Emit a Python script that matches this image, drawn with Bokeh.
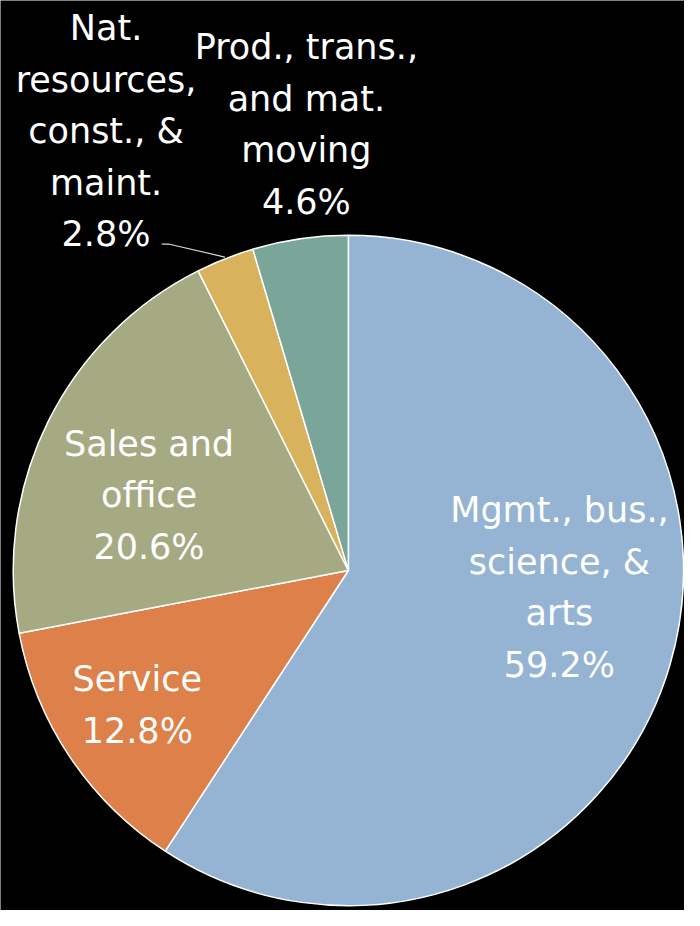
import math
from bokeh.plotting import figure
from bokeh.models import Range1d, ColumnDataSource
from bokeh.core.properties import value
from bokeh.embed import file_html
from bokeh.resources import INLINE

# ---- data ----
categories = ["Mgmt., bus., science, & arts", "Service", "Sales and office",
              "Nat. resources, const., & maint.", "Prod., trans., and mat. moving"]
label_lines = [
    ["Mgmt., bus.,", "science, &", "arts"],
    ["Service"],
    ["Sales and", "office"],
    ["Nat.", "resources,", "const., &", "maint."],
    ["Prod., trans.,", "and mat.", "moving"],
]
shares = [59.2, 12.8, 20.6, 2.8, 4.6]
colors = ["#95B3D3", "#DE8049", "#A5AA83", "#D9B25D", "#7AA699"]

# ---- layout (reference pixel space, 700 x 926) ----
W_REF, H_REF = 700, 926
CX, CY, R = 356, 580, 343
# label: centre x, last-line baseline (ref pixels)
label_pos = [(572, 688), (140, 755), (152, 568), (108, 250), (313, 217)]
LINE_H = 52.5
BASE_FIX = 12
FONT = "DejaVu Sans"
FS = "35px"

p = figure(width=684, height=910, output_backend="svg", toolbar_location=None,
           x_range=Range1d(0, W_REF), y_range=Range1d(0, H_REF),
           min_border=0, background_fill_color="black", border_fill_color="black",
           outline_line_color=None)
p.axis.visible = False
p.grid.visible = False

def fy(y):
    return H_REF - y

total = sum(shares)
cum = 0.0
starts, ends, mids = [], [], []
for s in shares:
    a0 = math.pi / 2 - 2 * math.pi * cum / total
    cum += s
    a1 = math.pi / 2 - 2 * math.pi * cum / total
    starts.append(a0)
    ends.append(a1)
    mids.append((a0 + a1) / 2)

src = ColumnDataSource(dict(start=starts, end=ends, color=colors))
p.wedge(x=CX, y=fy(CY), radius=R, start_angle="start", end_angle="end",
        direction="clock", fill_color="color", line_color="white",
        line_width=1.5, source=src)

# leader line for the Nat. resources slice
i_nat = 3
ex = CX + R * math.cos(mids[i_nat])
ey = fy(CY) + R * math.sin(mids[i_nat])
lx, ly = label_pos[i_nat]
p.line(x=[lx + 57, lx + 65, ex], y=[fy(ly - 2), fy(ly - 2), ey],
       line_color="#D9D9D9", line_width=1.2)

xs, ys, txt = [], [], []
for lines, s, (lx, ly) in zip(label_lines, shares, label_pos):
    all_lines = lines + [f"{s:.1f}%"]
    n = len(all_lines)
    for k, t in enumerate(all_lines):
        xs.append(lx)
        ys.append(fy(ly - BASE_FIX - (n - 1 - k) * LINE_H))
        txt.append(t)

p.text(x=xs, y=ys, text=txt, text_font=value(FONT), text_font_size=FS,
       text_color="white", text_align="center", text_baseline="alphabetic")

open("out.html", "w").write(file_html(p, INLINE))
